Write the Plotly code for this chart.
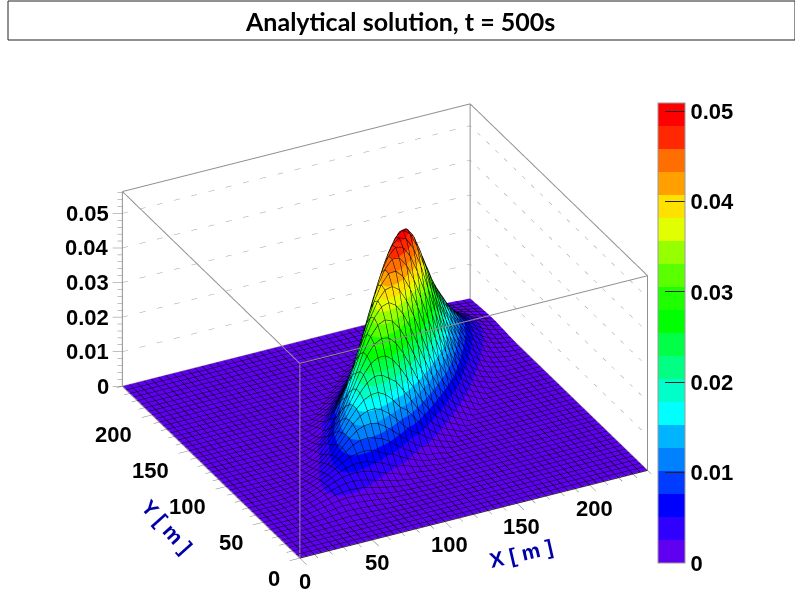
import plotly.graph_objects as go

# heights along lines parallel to the plume axis (x = y), units of 1e-4, 5 m grid.
# z_diag<k> runs along x - y = 5k m and starts at the sixth grid node of that line.
z_diag0 = [1,2,5,10,17,26,35,46,57,72,92,118,145,175,210,250,290,330,367,400,432,458,477,489,495,485,450,405,360,315,275,240,205,170,140,110,85,60,42,25,15,8,3,0]
z_diag1 = [1,3,7,13,20,29,39,49,62,78,101,127,155,186,223,262,302,340,374,405,434,456,472,480,480,458,417,372,328,287,250,216,182,151,122,95,70,50,32,19,11,5,1]
z_diag2 = [2,4,9,15,23,31,40,50,63,80,103,129,156,187,222,262,298,331,361,390,413,430,441,446,437,406,365,325,284,248,216,185,153,126,99,77,54,38,23,14,7,3]
z_diag3 = [2,5,10,15,22,29,38,47,60,77,97,123,147,176,207,246,277,305,330,353,371,384,391,391,373,339,303,267,234,204,176,148,123,99,77,57,40,26,16,9,4]
z_diag4 = [3,6,10,15,20,27,33,42,53,69,90,109,131,156,192,218,243,265,286,303,316,324,328,321,298,268,238,209,182,159,136,113,93,73,56,40,28,17,10,5]
z_diag5 = [3,6,9,13,17,22,27,35,45,56,77,92,110,129,162,183,201,218,233,245,254,258,258,246,224,200,177,155,135,116,98,81,66,51,38,27,17,10,6]
z_diag6 = [3,5,8,10,14,17,21,27,35,50,61,73,87,115,130,145,158,171,181,188,193,196,192,178,160,142,124,109,95,81,67,55,43,34,24,17,10,6]
z_diag7 = [2,4,6,8,10,12,15,20,25,38,45,54,64,87,98,108,117,125,132,136,139,139,133,121,108,95,83,72,63,53,44,35,27,20,14,9,6]
z_diag8 = [2,3,4,5,6,8,10,13,22,27,32,38,55,63,70,76,83,87,91,93,95,93,86,77,69,60,53,46,39,32,27,21,16,11,8,5]
z_diag9 = [1,2,3,3,4,5,7,8,15,18,21,25,38,43,47,51,55,58,60,61,61,58,53,47,41,36,32,27,23,19,15,12,9,6,4]
z_diag10 = [1,1,2,2,2,3,4,8,9,11,13,22,25,28,30,33,35,36,37,37,37,34,31,27,24,21,18,15,13,11,8,6,5,3]
z_diag11 = [1,1,1,1,1,2,2,4,5,6,8,14,15,17,18,20,21,21,22,22,21,19,17,15,13,11,10,8,7,6,4,3,2]
z_diag12 = [0,0,0,1,1,1,2,2,3,4,7,8,9,10,10,11,11,12,12,12,11,10,9,8,7,6,5,4,3,3,2,1]
grid_x = list(range(0, 245, 5))
grid_y = list(range(0, 245, 5))

x_major = [0, 50, 100, 150, 200]
y_major = [0, 50, 100, 150, 200]
z_major = [0, 0.01, 0.02, 0.03, 0.04, 0.05]
z_labels = ["0", "0.01", "0.02", "0.03", "0.04", "0.05"]
xy_minor = list(range(0, 250, 10))
z_minor = [i * 0.002 for i in range(0, 29)]
box_xy = 240
box_z = 0.0563
z_top = 0.0509

palette = ["#6000f0", "#3000ff", "#0000ff", "#003cff", "#0082ff", "#00b4ff", "#00ffff", "#00ffc8",
           "#00ff82", "#00ff46", "#00ff00", "#1eff00", "#5aff00", "#96ff00", "#e1ff00", "#ffe100",
           "#ffa000", "#ff6e00", "#ff2800", "#ff0000"]

diags = [z_diag0, z_diag1, z_diag2, z_diag3, z_diag4, z_diag5, z_diag6, z_diag7, z_diag8,
         z_diag9, z_diag10, z_diag11, z_diag12]
n = len(grid_x)
Z = [[0.0] * n for _ in range(n)]
for k, d in enumerate(diags):
    for off, v in enumerate(d):
        m = 5 + off
        if m + k < n:
            Z[m][m + k] = v * 1e-4
            Z[m + k][m] = v * 1e-4

scale = []
for i, c in enumerate(palette):
    scale.append([i / 20, c])
    scale.append([(i + 1) / 20, c])

BOLD = dict(family="Liberation Sans", size=22, color="black", weight=700)
fig = go.Figure()
fig.add_trace(go.Surface(
    x=grid_x, y=grid_y, z=Z, cmin=0, cmax=z_top, colorscale=scale,
    lighting=dict(ambient=1, diffuse=0, specular=0, roughness=1, fresnel=0),
    contours=dict(
        x=dict(show=True, start=0, end=240, size=5, color="black", width=1, highlight=False),
        y=dict(show=True, start=0, end=240, size=5, color="black", width=1, highlight=False),
        z=dict(highlight=False)),
    hoverinfo="skip",
    colorbar=dict(x=658 / 795, xanchor="left", y=1 - 333 / 589, yanchor="middle", len=460 / 589,
                  lenmode="fraction", thickness=27, thicknessmode="pixels", xpad=0, ypad=0,
                  outlinewidth=1, outlinecolor="#999999", tickmode="array", tickvals=z_major,
                  ticktext=z_labels, ticks="inside", ticklen=20, tickwidth=1, tickcolor="#222222",
                  tickfont=BOLD)))

def add_lines(xs, ys, zs, color, width, dash="solid"):
    fig.add_trace(go.Scatter3d(x=xs, y=ys, z=zs, mode="lines", hoverinfo="skip", showlegend=False,
                               line=dict(color=color, width=width, dash=dash)))

# box frame
B, T = box_xy, box_z
ex, ey, ez = [], [], []
for (a, b) in [((0,0,0),(B,0,0)), ((0,0,0),(0,B,0)), ((B,0,0),(B,B,0)), ((0,B,0),(B,B,0)),
               ((0,0,T),(B,0,T)), ((0,0,T),(0,B,T)), ((B,0,T),(B,B,T)), ((0,B,T),(B,B,T)),
               ((0,0,0),(0,0,T)), ((B,0,0),(B,0,T)), ((0,B,0),(0,B,T)), ((B,B,0),(B,B,T))]:
    ex += [a[0], b[0], None]; ey += [a[1], b[1], None]; ez += [a[2], b[2], None]
add_lines(ex, ey, ez, "#909090", 2)

# grid on the back walls
gx, gy, gz = [], [], []
for v in z_major[1:]:
    gx += [0, B, B, None]; gy += [B, B, 0, None]; gz += [v, v, v, None]
add_lines(gx, gy, gz, "#a0a0a0", 1, "dot")

# ticks
tx, ty, tz = [], [], []
for v in xy_minor:
    if v > B: continue
    lx = 9 if v in x_major else 5
    tx += [v, v, None]; ty += [0, -lx, None]; tz += [0, 0, None]
    ly = 7 if v in y_major else 4
    tx += [0, -ly, None]; ty += [v, v, None]; tz += [0, 0, None]
for v in z_minor:
    l = 6 if any(abs(v - m) < 1e-9 for m in z_major) else 3
    tx += [0, -0.89 * l, None]; ty += [B, B + 0.455 * l, None]; tz += [v, v, None]
add_lines(tx, ty, tz, "#808080", 1)

ann = []
for v in x_major:
    ann.append(dict(x=v, y=0, z=0, text=str(v), showarrow=False, xanchor="center", yanchor="middle",
                    xshift=5, yshift=-23, font=BOLD))
for v in y_major:
    ann.append(dict(x=0, y=v, z=0, text=str(v), showarrow=False, xanchor="right", yanchor="middle",
                    xshift=-18, yshift=-20, font=BOLD))
for v, t in zip(z_major, z_labels):
    ann.append(dict(x=0, y=B, z=v, text=t, showarrow=False, xanchor="right", yanchor="middle",
                    xshift=-11, yshift=0, font=BOLD))
TITLE = dict(family="Liberation Sans", size=21, color="#0000a8", weight=700)
ann.append(dict(x=150, y=0, z=0, text="X [ m ]", showarrow=False, textangle=-13, xshift=4, yshift=-50, font=TITLE))
ann.append(dict(x=0, y=100, z=0, text="Y [ m ]", showarrow=False, textangle=48, xshift=-59, yshift=-40, font=TITLE))

R = 3.0
K = 1.513
hidden = dict(visible=False, showspikes=False)
fig.update_layout(
    width=795, height=589, margin=dict(l=0, r=0, t=0, b=0), paper_bgcolor="white", showlegend=False,
    scene=dict(
        domain=dict(x=[0, 0.968], y=[0, 0.876]),
        xaxis=dict(range=[-12, 252], **hidden),
        yaxis=dict(range=[-12, 252], **hidden),
        zaxis=dict(range=[-0.003, 0.0593], **hidden),
        aspectmode="manual",
        aspectratio=dict(x=1.1 * K, y=1.1 * K, z=0.635 * K),
        camera=dict(projection=dict(type="orthographic"), up=dict(x=0, y=0, z=1),
                    center=dict(x=0, y=0, z=0),
                    eye=dict(x=-0.395 * R, y=-0.774 * R, z=0.494 * R)),
        annotations=ann),
    shapes=[dict(type="rect", xref="paper", yref="paper", x0=8 / 795, x1=1.0, y0=1 - 40 / 589, y1=1 - 1 / 589,
                 line=dict(color="#222222", width=1), fillcolor="white")],
    annotations=[dict(xref="paper", yref="paper", x=400 / 795, y=1 - 21 / 589, text="Analytical solution, t = 500s",
                      showarrow=False, xanchor="center", yanchor="middle",
                      font=dict(family="Lato", size=25, color="black", weight=700))])
fig.write_html("out.html", post_script="document.body.style.margin='0';", config=dict(displayModeBar=False))
